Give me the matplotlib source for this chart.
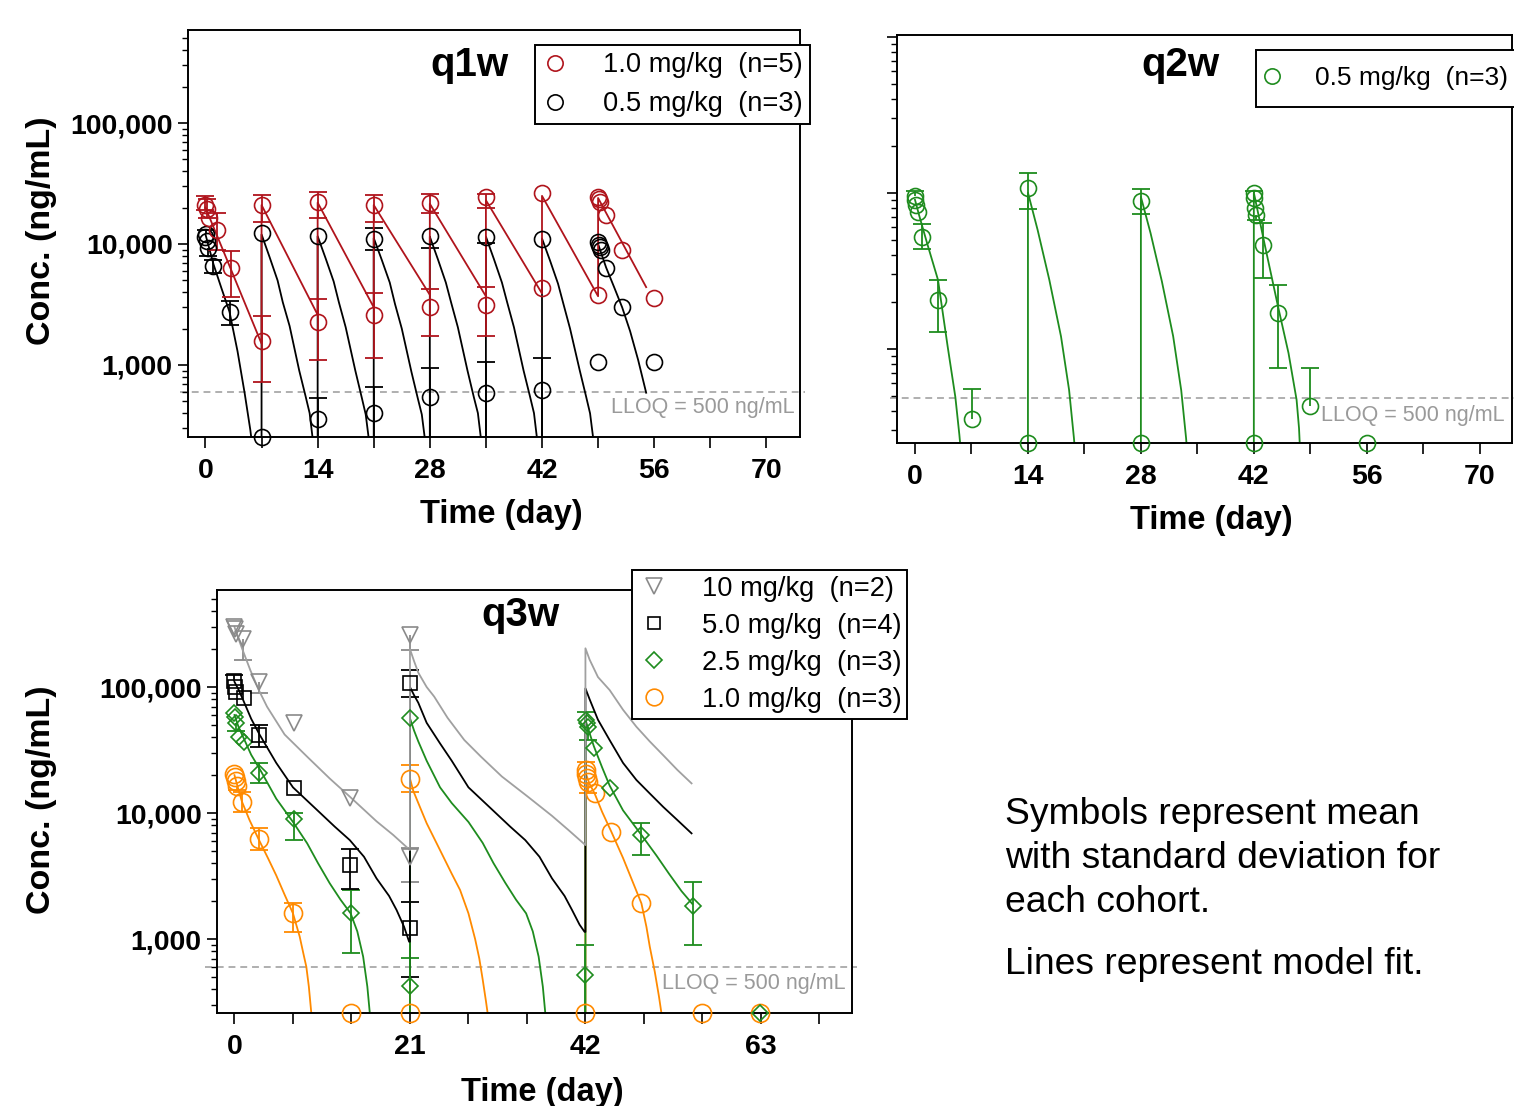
import numpy as np
import matplotlib
matplotlib.use("Agg")
import matplotlib.pyplot as plt
from matplotlib.lines import Line2D
from matplotlib.ticker import FixedLocator, NullFormatter, FuncFormatter, LogLocator

plt.rcParams['font.family'] = ['Liberation Sans', 'DejaVu Sans']
nan = np.nan

# ======================= q1w data =======================
q1w_red_t  = [0.0, 0.17, 0.5, 1.4, 3.2, 7.0, 7.04, 14.0, 14.04, 21.0, 21.04, 28.0, 28.04,
              35.0, 35.04, 42.0, 42.04, 49.0, 49.04, 49.1, 49.2, 50.0, 52.0, 56.0]
q1w_red_c  = [21000, 19500, 16400, 13000, 6300, 1590, 21000, 2280, 22400, 2590, 21000, 3030, 21700,
              3130, 24600, 4300, 26200, 3790, 24500, 23500, 22400, 17400, 8920, 3560]
q1w_red_lo = [19000, 16500, nan, 9000, 3630, 720, 15300, 1100, 16300, 1135, 15300, 1740, 17900,
              1740, 20000, nan, nan, nan, nan, nan, nan, nan, nan, nan]
q1w_red_hi = [25000, 23500, nan, 17900, 8800, 2540, 25400, 3490, 27000, 3900, 25400, 4270, 25900,
              4380, 26000, nan, nan, nan, nan, nan, nan, nan, nan, nan]

q1w_blk_t  = [0.0, 0.04, 0.17, 0.33, 1.0, 3.0, 7.04, 14.0, 14.04, 21.0, 21.04, 28.0, 28.04,
              35.0, 35.04, 42.0, 42.04, 49.0, 49.04, 49.1, 49.2, 49.33, 50.0, 52.0, 56.0]
q1w_blk_c  = [11500, 12000, 10500, 9300, 6580, 2760, 12250, 355, 11600, 400, 11100, 547, 11600,
              590, 11500, 621, 11100, 1065, 10400, 9800, 9400, 8900, 6300, 3030, 1065]
q1w_blk_lo = [nan, nan, nan, 8000, 5730, 2140, nan, 100, nan, 100, 8920, 100, 9210,
              100, 10200, 100, nan, nan, nan, nan, nan, nan, nan, nan, nan]
q1w_blk_hi = [nan, 13000, nan, nan, 7380, 3400, nan, 530, nan, 660, 13500, 940, nan,
              1050, nan, 1135, nan, nan, nan, nan, nan, nan, nan, nan, nan]
q1w_blk_blq_t = [7.0]

q1w_red_fit_t = [0, 7, 7, 14, 14, 21, 21, 28, 28, 35, 35, 42, 42, 49, 49, 55]
q1w_red_fit_c = [20000, 1500, 21000, 2600, 22000, 3000, 21000, 3800, 21500, 3700, 23000, 3900,
                 25000, 3700, 24000, 4400]

q1w_blk_fit = [
    ([0, 1, 2, 3, 4, 4.9, 5.6, 5.75], [12000, 6800, 4300, 2750, 1300, 580, 290, 240]),
    ([7, 7, 8, 9, 9.65, 10.5, 11.7, 12.5, 13.0, 13.4], [200, 12000, 7800, 5000, 3300, 2100, 900, 550, 400, 240]),
    ([14, 14, 15, 16, 16.65, 17.5, 18.7, 19.5, 20.0, 20.4], [200, 11600, 7600, 4900, 3300, 2050, 900, 540, 390, 240]),
    ([21, 21, 22, 23, 23.65, 24.5, 25.7, 26.5, 27.0, 27.4], [200, 11200, 7400, 4800, 3200, 2000, 880, 530, 390, 240]),
    ([28, 28, 29, 30, 30.65, 31.5, 32.7, 33.5, 34.0, 34.4], [200, 11500, 7500, 4800, 3300, 2050, 900, 540, 400, 240]),
    ([35, 35, 36, 37, 37.65, 38.5, 39.7, 40.5, 41.0, 41.4], [200, 11500, 7500, 4800, 3300, 2050, 900, 550, 400, 240]),
    ([42, 42, 43, 44, 44.65, 45.5, 46.7, 47.5, 48.0, 48.4], [200, 11100, 7300, 4700, 3240, 2000, 908, 550, 398, 245]),
    ([49, 50, 51, 52, 53, 54, 55], [10000, 6400, 4400, 3000, 1900, 1100, 590]),
]

# ======================= q2w data =======================
q2w_t  = [0.0, 0.04, 0.17, 0.33, 0.9, 2.9, 7.1, 14.0, 28.0, 42.0, 42.04, 42.17, 42.33, 43.1, 45.0, 48.9]
q2w_c  = [9500, 9000, 8300, 7500, 5180, 2050, 352, 10660, 8890, 10000, 9200, 8000, 7200, 4620, 1700, 430]
q2w_lo = [nan, nan, nan, nan, 4340, 1285, nan, 7850, 7260, nan, nan, nan, 6680, 2820, 748, nan]
q2w_hi = [10200, nan, nan, nan, 6270, 2760, 552, 13400, 10600, 10300, nan, nan, nan, 6370, 2560, 748]
q2w_blq_t = [14.0, 28.0, 42.0, 56.0]

q2w_fit = [
    ([0, 0.5, 1.5, 2.85, 4.05, 5.0, 5.5, 5.65], [9000, 7200, 4740, 2760, 1030, 490, 280, 230]),
    ([14, 14, 15.2, 16.65, 18.1, 19.1, 19.7, 19.8], [200, 10000, 5770, 2760, 1195, 543, 267, 230]),
    ([28, 28, 29.2, 30.6, 32.0, 33.0, 33.6, 33.7], [200, 9400, 5500, 2700, 1200, 540, 267, 230]),
    ([42, 42, 43.4, 45.0, 46.3, 47.3, 47.6, 47.7], [200, 10000, 4510, 1860, 935, 469, 309, 240]),
]

# ======================= q3w data =======================
q3w_gry_t  = [0.0, 0.04, 0.17, 1.0, 2.9, 7.1, 13.8, 21.0, 21.04]
q3w_gry_c  = [300000, 290000, 265000, 240000, 110000, 51500, 13100, 4500, 259000]
q3w_gry_lo = [nan, nan, nan, 165000, 89000, nan, nan, 2850, 197000]
q3w_gry_hi = [nan, nan, nan, nan, nan, nan, nan, 5250, nan]

q3w_blk_t  = [0.0, 0.04, 0.17, 1.2, 2.9, 7.1, 13.8, 21.0, 21.04]
q3w_blk_c  = [112000, 100000, 92000, 81300, 41600, 15700, 3860, 1216, 107000]
q3w_blk_lo = [nan, nan, nan, nan, 33600, nan, 2510, 500, 82800]
q3w_blk_hi = [125000, nan, nan, nan, 49900, nan, 5150, 1980, 136000]

q3w_grn_t  = [0.0, 0.04, 0.17, 0.5, 1.2, 2.9, 7.1, 13.9, 21.0, 21.04, 42.0, 42.04, 42.17, 42.33,
              43.0, 44.9, 48.7, 54.9]
q3w_grn_c  = [62000, 58000, 52000, 40300, 36800, 20700, 9000, 1600, 424, 56500, 517, 55000, 52000, 48000,
              32600, 15700, 6680, 1830]
q3w_grn_lo = [nan, nan, 45000, nan, nan, 17200, 6110, 771, nan, nan, 150, nan, nan, 38000,
              nan, nan, 4640, 895]
q3w_grn_hi = [nan, nan, nan, nan, nan, 24800, 9960, 2450, 703, nan, 895, 63700, nan, nan,
              nan, nan, 8380, 2820]
q3w_grn_blq_t = [62.9]

q3w_org_t  = [0.0, 0.04, 0.17, 0.33, 0.9, 2.9, 7.0, 21.04, 42.04, 42.1, 42.17, 42.33, 43.1, 45.1, 48.7]
q3w_org_c  = [20500, 19500, 18000, 16500, 12300, 6180, 1600, 18800, 22000, 20500, 19000, 17500, 14300, 7110, 1920]
q3w_org_lo = [nan, nan, nan, 15200, 10200, 5080, 1140, 14800, nan, nan, nan, 14500, nan, nan, nan]
q3w_org_hi = [nan, nan, nan, nan, 14800, 7560, 1920, 24000, 25500, nan, nan, nan, nan, nan, nan]
q3w_org_blq_t = [13.9, 21.0, 42.0, 55.9, 62.9]

q3w_gry_fit = ([0, 0.5, 1, 1.9, 2.9, 3.9, 6, 8.7, 11.4, 13.8, 17, 19, 21,
                21, 21.5, 22, 23, 23.9, 25.5, 27.5, 29.5, 32, 35.1, 38, 40, 42,
                42, 42.5, 43.5, 44.9, 46.5, 48.1, 49.7, 51.3, 53, 54.7],
               [300000, 240000, 195000, 136000, 95000, 69800, 42000, 28000, 18800, 13500, 8600, 6700, 5080,
                200000, 160000, 130000, 100000, 84000, 57000, 38000, 28000, 19500, 13500, 9500, 7300, 5570,
                203000, 165000, 120000, 94600, 66000, 48400, 37000, 28800, 22000, 17200])
q3w_blk_fit = ([0, 0.5, 1, 2, 3, 5, 7, 10, 12, 13.8, 15.5, 17, 18.5, 19.4, 20.3, 20.9,
                21, 21, 21.5, 22, 23, 24.6, 26, 28, 31, 33, 34.8, 36.5, 38, 39.5, 40.4, 41.3, 41.9,
                42, 42, 42.5, 43.5, 44.9, 46.5, 48.1, 49.7, 51.3, 53, 54.7],
               [110000, 95000, 80000, 56000, 42000, 25000, 16000, 10400, 7800, 6100, 4500, 3030, 2200, 1700,
                1250, 953,
                953, 100000, 86000, 75000, 52000, 35700, 26000, 16000, 10400, 7800, 6100, 4500, 3030, 2200,
                1700, 1300, 1140,
                1140, 97600, 80000, 55000, 37900, 25000, 18300, 14300, 11200, 8800, 6900])
q3w_grn_fit = [
    ([0, 0.5, 1.2, 2, 3.1, 5, 7, 8.7, 10, 11.4, 12.7, 13.9, 14.7, 15.4, 15.9, 16.2, 16.3],
     [60000, 48000, 38000, 29000, 21900, 13000, 8500, 5750, 4000, 2770, 2050, 1600, 1150, 725, 420, 257, 230]),
    ([21, 21, 21.5, 22, 23, 24.6, 26, 28, 29.7, 31, 32.4, 33.7, 34.9, 35.7, 36.4, 36.9, 37.2, 37.3],
     [200, 56500, 45000, 37000, 26000, 16000, 12000, 8500, 5800, 4000, 2800, 2050, 1600, 1150, 725, 420, 257, 230]),
    ([42, 42, 42.5, 43, 44, 44.9, 46.5, 48.7, 50.5, 52, 53.5, 54.8],
     [200, 55000, 43000, 34000, 23000, 16500, 10500, 6700, 4600, 3300, 2400, 1900]),
]
q3w_org_fit = [
    ([0, 0.4, 0.9, 1.8, 2.9, 4, 5, 6, 7, 7.8, 8.3, 8.6, 8.9, 9.2, 9.3],
     [20000, 16000, 12300, 8800, 6180, 4400, 3200, 2250, 1600, 1050, 740, 603, 420, 257, 230]),
    ([21, 21, 21.4, 22, 23, 24.6, 26, 27, 28, 28.8, 29.3, 29.7, 30.1, 30.3, 30.4],
     [200, 18800, 15000, 12000, 8300, 5080, 3300, 2450, 1600, 1000, 700, 480, 320, 257, 230]),
    ([42, 42, 42.5, 43.1, 44, 45.1, 46.5, 47.7, 48.7, 49.3, 49.7, 50.3, 50.8, 51.1, 51.2],
     [200, 21000, 17000, 14300, 10200, 7110, 4400, 2800, 1920, 1250, 870, 550, 350, 257, 230]),
]

q1w_labels = ['1.0 mg/kg  (n=5)', '0.5 mg/kg  (n=3)']
q2w_labels = ['0.5 mg/kg  (n=3)']
q3w_labels = ['10 mg/kg  (n=2)', '5.0 mg/kg  (n=4)', '2.5 mg/kg  (n=3)', '1.0 mg/kg  (n=3)']
lloq_text = 'LLOQ = 500 ng/mL'
note_lines = ['Symbols represent mean', 'with standard deviation for', 'each cohort.', 'Lines represent model fit.']

# ======================= style =======================
RED = '#b0141c'
BLK = '#000000'
GRN = '#1e8c1e'
ORG = '#ff8a00'
GRY_M = '#8a8a8a'
GRY_L = '#a0a0a0'
LLOQ_C = '#9a9a9a'
LW = 1.3
CAP = 12.5
LEG_FS = 19.6

W, H = 1514, 1106
fig = plt.figure(figsize=(W / 100, H / 100), dpi=100)


def fx(x):
    return x / W


def fy(y):
    return 1 - y / H


def make_ax(l, t, r, b, xlim, ylim, xmaj, xmin, ylabels=True):
    ax = fig.add_axes([fx(l), fy(b), (r - l) / W, (b - t) / H])
    ax.set_yscale('log')
    ax.set_xlim(*xlim)
    ax.set_ylim(*ylim)
    for s in ax.spines.values():
        s.set_linewidth(1.4)
    ax.xaxis.set_major_locator(FixedLocator(xmaj))
    ax.xaxis.set_minor_locator(FixedLocator(xmin))
    ax.yaxis.set_major_locator(FixedLocator([1000, 10000, 100000]))
    ax.yaxis.set_minor_locator(LogLocator(base=10, subs=np.arange(2, 10)))
    ax.yaxis.set_minor_formatter(NullFormatter())
    if ylabels:
        ax.yaxis.set_major_formatter(FuncFormatter(lambda v, p: f'{v:,.0f}'))
    else:
        ax.yaxis.set_major_formatter(NullFormatter())
    ax.tick_params(axis='x', which='both', direction='out', length=8, width=1.2, pad=7,
                   labelsize=20.5, top=False)
    ax.tick_params(axis='y', which='major', direction='out', length=7, width=1.2, pad=4,
                   labelsize=20.5, right=False)
    ax.tick_params(axis='y', which='minor', direction='out', length=4, width=1.0, right=False)
    for lab in ax.get_xticklabels() + ax.get_yticklabels():
        lab.set_fontweight('bold')
    return ax


def draw_pts(ax, t, c, lo, hi, marker, color, ms):
    t = np.asarray(t, float)
    c = np.asarray(c, float)
    lo = np.asarray(lo, float)
    hi = np.asarray(hi, float)
    m = ~np.isnan(lo)
    ax.vlines(t[m], lo[m], c[m], colors=color, lw=LW)
    ax.plot(t[m], lo[m], ls='none', marker='_', ms=CAP, mew=LW, color=color)
    m = ~np.isnan(hi)
    ax.vlines(t[m], c[m], hi[m], colors=color, lw=LW)
    ax.plot(t[m], hi[m], ls='none', marker='_', ms=CAP, mew=LW, color=color)
    ax.plot(t, c, ls='none', marker=marker, mfc='none', mec=color, ms=ms, mew=1.2, zorder=4)


def draw_blq(ax, t, marker, color, ms):
    y0 = ax.get_ylim()[0]
    ax.plot(t, [y0] * len(t), ls='none', marker=marker, mfc='none', mec=color, ms=ms, mew=1.2,
            clip_on=False, zorder=6)


def draw_lloq(ax, value, x0, x1, tx, ty):
    ax.plot([x0, x1], [value, value], ls=(0, (4.5, 3.2)), color=LLOQ_C, lw=1.1, clip_on=False, zorder=1)
    fig.text(fx(tx), fy(ty), lloq_text, ha='right', va='center', fontsize=15.5, color=LLOQ_C)


def make_legend(ax, handles, labels, x, y, bp, ls, hl, htp, fs=LEG_FS):
    leg = ax.legend(handles, labels, loc='upper left', bbox_to_anchor=(fx(x), fy(y)),
                    bbox_transform=fig.transFigure, borderaxespad=0, borderpad=bp, labelspacing=ls,
                    handlelength=hl, handletextpad=htp, frameon=True, fancybox=False,
                    edgecolor='black', framealpha=1, fontsize=fs)
    leg.get_frame().set_linewidth(1.4)
    leg.set_zorder(10)
    return leg


def hnd(marker, color, ms):
    return Line2D([], [], ls='none', marker=marker, mfc='none', mec=color, ms=ms, mew=1.2)


# ======================= panel q1w =======================
ax1 = make_ax(188, 30, 800, 437, (-2.18, 74.2), (254, 587000),
              [0, 14, 28, 42, 56, 70], [7, 21, 35, 49, 63])
for ft, fc in q1w_blk_fit:
    ax1.plot(ft, fc, color=BLK, lw=LW, zorder=2)
ax1.plot(q1w_red_fit_t, q1w_red_fit_c, color=RED, lw=LW, zorder=2.2)
draw_pts(ax1, q1w_blk_t, q1w_blk_c, q1w_blk_lo, q1w_blk_hi, 'o', BLK, 11.5)
draw_pts(ax1, q1w_red_t, q1w_red_c, q1w_red_lo, q1w_red_hi, 'o', RED, 11.5)
draw_blq(ax1, q1w_blk_blq_t, 'o', BLK, 11.5)
draw_lloq(ax1, 595, -3.2, 74.8, 795, 408)
make_legend(ax1, [hnd('o', RED, 11), hnd('o', BLK, 11)], q1w_labels, 535, 45, 0.27, 0.47, 0.95, 1.27)

# ======================= panel q2w =======================
ax2 = make_ax(897, 35, 1512, 443, (-2.23, 74.0), (248, 102600),
              [0, 14, 28, 42, 56, 70], [7, 21, 35, 49, 63], ylabels=False)
for ft, fc in q2w_fit:
    ax2.plot(ft, fc, color=GRN, lw=LW, zorder=2)
draw_pts(ax2, q2w_t, q2w_c, q2w_lo, q2w_hi, 'o', GRN, 11.5)
draw_blq(ax2, q2w_blq_t, 'o', GRN, 11.5)
draw_lloq(ax2, 480, -3.1, 75.0, 1505, 415)
make_legend(ax2, [hnd('o', GRN, 11)], q2w_labels, 1256, 50, 0.62, 0.3, 0.0, 1.6, fs=19)

# ======================= panel q3w =======================
ax3 = make_ax(217, 590, 852, 1013, (-2.09, 73.9), (259, 589000),
              [0, 21, 42, 63], [7, 14, 28, 35, 49, 56, 70])
for ft, fc in q3w_org_fit:
    ax3.plot(ft, fc, color=ORG, lw=LW, zorder=2)
for ft, fc in q3w_grn_fit:
    ax3.plot(ft, fc, color=GRN, lw=LW, zorder=2.1)
ax3.plot(*q3w_blk_fit, color=BLK, lw=LW, zorder=2.2)
ax3.plot(*q3w_gry_fit, color=GRY_L, lw=LW, zorder=2.3)
draw_pts(ax3, q3w_org_t, q3w_org_c, q3w_org_lo, q3w_org_hi, 'o', ORG, 13)
draw_pts(ax3, q3w_grn_t, q3w_grn_c, q3w_grn_lo, q3w_grn_hi, 'D', GRN, 8)
draw_pts(ax3, q3w_blk_t, q3w_blk_c, q3w_blk_lo, q3w_blk_hi, 's', BLK, 9.5)
draw_pts(ax3, q3w_gry_t, q3w_gry_c, q3w_gry_lo, q3w_gry_hi, 'v', GRY_M, 11)
draw_blq(ax3, q3w_org_blq_t, 'o', ORG, 13)
draw_blq(ax3, q3w_grn_blq_t, 'D', GRN, 8)
draw_lloq(ax3, 603, -3.5, 74.5, 846, 983)
make_legend(ax3, [hnd('v', GRY_M, 11), hnd('s', BLK, 9), hnd('D', GRN, 8.5), hnd('o', ORG, 12)],
            q3w_labels, 632, 570, 0.22, 0.4, 1.14, 1.2)

# ======================= texts =======================
fig.text(fx(469), fy(65), 'q1w', ha='center', va='center', fontsize=29, fontweight='bold')
fig.text(fx(1180), fy(65), 'q2w', ha='center', va='center', fontsize=29, fontweight='bold')
fig.text(fx(520), fy(615), 'q3w', ha='center', va='center', fontsize=29, fontweight='bold')

fig.text(fx(501), fy(515), 'Time (day)', ha='center', va='center', fontsize=23.5, fontweight='bold')
fig.text(fx(1211), fy(521), 'Time (day)', ha='center', va='center', fontsize=23.5, fontweight='bold')
fig.text(fx(542), fy(1092), 'Time (day)', ha='center', va='center', fontsize=23.5, fontweight='bold')
fig.text(fx(42), fy(231), 'Conc. (ng/mL)', ha='center', va='center', rotation=90, fontsize=24.5,
         fontweight='bold')
fig.text(fx(42), fy(800), 'Conc. (ng/mL)', ha='center', va='center', rotation=90, fontsize=24.5,
         fontweight='bold')

for ln, yy in zip(note_lines, [815, 859, 903, 965]):
    fig.text(fx(1005), fy(yy), ln, ha='left', va='center', fontsize=26.8)

fig.savefig('out.png', dpi=100)
